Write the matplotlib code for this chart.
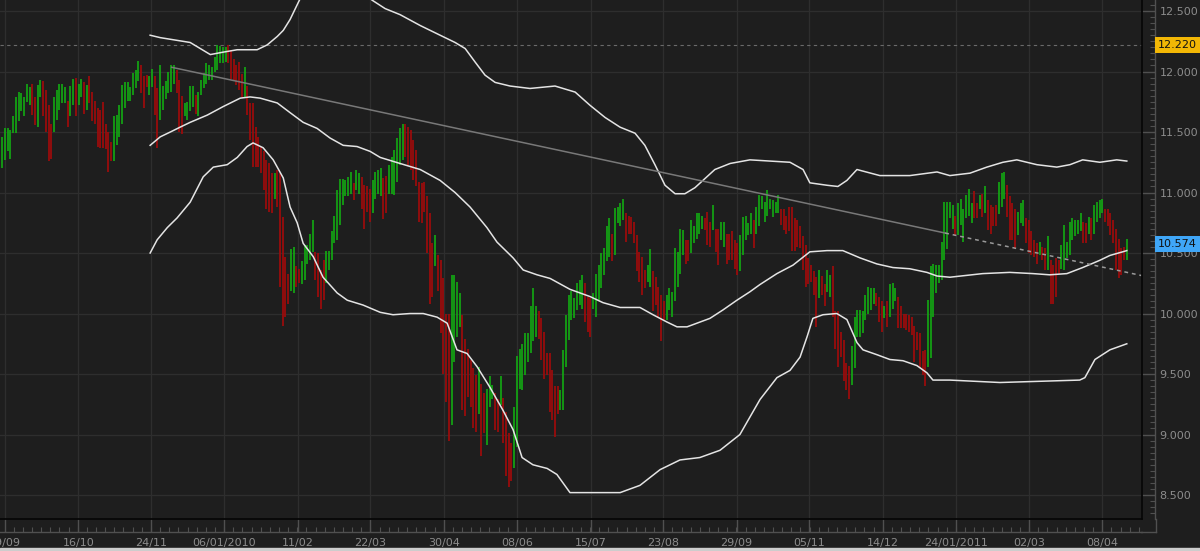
import numpy as np
import matplotlib
matplotlib.use("Agg")
import matplotlib.pyplot as plt
import matplotlib.transforms as mtransforms
from matplotlib.ticker import MultipleLocator, FixedLocator, FuncFormatter
from matplotlib.lines import Line2D

# daily bars (high / low), colour: g = up day, r = down day
highs = [
    11.46, 11.53, 11.53, 11.52, 11.63, 11.79, 11.83, 11.82, 11.79, 11.90, 11.87, 11.90, 11.79, 11.89, 11.93, 11.92,
    11.85, 11.72, 11.57, 11.79, 11.85, 11.90, 11.90, 11.87, 11.76, 11.88, 11.94, 11.95, 11.90, 11.94, 11.91, 11.89,
    11.96, 11.83, 11.76, 11.70, 11.68, 11.75, 11.57, 11.50, 11.42, 11.63, 11.64, 11.72, 11.89, 11.91, 11.91, 11.87,
    11.99, 12.01, 12.09, 12.05, 11.96, 11.97, 11.96, 12.02, 11.96, 11.86, 12.05, 11.88, 11.92, 12.00, 12.05, 12.05,
    12.01, 11.93, 11.80, 11.74,
    11.75, 11.88, 11.88, 11.81, 11.83, 11.93, 11.99, 12.07, 12.05, 12.04, 12.12, 12.22, 12.21, 12.20, 12.20, 12.22,
    12.18, 12.10, 12.05, 12.08, 11.98, 12.04, 11.88, 11.74, 11.74, 11.54, 11.46, 11.38, 11.34, 11.27, 11.24, 11.16,
    11.16, 11.19, 11.16, 10.80, 10.47, 10.33, 10.53, 10.55, 10.39, 10.37, 10.43, 10.57, 10.57, 10.66, 10.77, 10.51,
    10.50, 10.36, 10.44, 10.52, 10.52, 10.68, 10.81, 11.02, 11.11, 11.11, 11.10, 11.13, 11.17, 11.08, 11.19, 11.16,
    11.13, 11.06, 11.05, 11.03, 11.10,
    11.17, 11.19, 11.20, 11.12, 11.14, 11.23, 11.29, 11.35, 11.45, 11.53, 11.57, 11.57, 11.54, 11.52, 11.43, 11.35,
    11.09, 11.08, 11.09, 10.97, 10.83, 10.58, 10.65, 10.48, 10.44, 10.29, 10.00, 10.00, 10.32, 10.32, 10.26, 10.17,
    9.99, 9.79, 9.71, 9.62, 9.55, 9.49, 9.56, 9.42, 9.34, 9.38, 9.48, 9.41, 9.34, 9.29, 9.48, 9.30,
    9.19, 9.01, 8.93, 9.23, 9.65, 9.71, 9.75, 9.84, 9.84, 10.06, 10.21, 10.06, 10.02, 9.96, 9.85, 9.67,
    9.67, 9.53, 9.40, 9.40, 9.37,
    9.70, 9.99, 10.15, 10.19, 10.13, 10.25, 10.28, 10.32, 10.25, 10.14, 10.13, 10.17, 10.33, 10.40, 10.50, 10.54,
    10.72, 10.79, 10.66, 10.87, 10.88, 10.91, 10.95, 10.83, 10.81, 10.80, 10.76, 10.65, 10.51, 10.47, 10.36, 10.40,
    10.53, 10.35, 10.30, 10.22, 10.15, 10.10, 10.15, 10.21, 10.18, 10.54, 10.51, 10.70, 10.69, 10.61, 10.61, 10.77,
    10.72, 10.83, 10.83, 10.81, 10.79, 10.84, 10.76, 10.90, 10.70, 10.70, 10.76, 10.76, 10.66, 10.66, 10.68, 10.61,
    10.58, 10.65, 10.80, 10.81, 10.75, 10.83,
    10.77, 10.88, 10.98, 10.97, 10.92, 11.02, 10.95, 10.94, 10.92, 10.98, 10.86, 10.86, 10.81, 10.88, 10.88, 10.79,
    10.77, 10.72, 10.64, 10.57, 10.46, 10.40, 10.35, 10.30, 10.36, 10.31, 10.24, 10.36, 10.32, 10.39, 10.02, 10.02,
    9.85, 9.78, 9.59, 9.57, 9.73, 9.97, 10.03, 10.03, 10.02, 10.15, 10.22, 10.21, 10.21, 10.17, 10.14, 10.10,
    10.06, 10.10, 10.24, 10.25, 10.21, 10.14, 10.06, 10.00, 10.00, 9.99, 9.97, 9.90, 9.85, 9.84, 9.69, 9.70,
    10.11, 10.39, 10.41, 10.40, 10.40, 10.59,
    10.92, 10.92, 10.92, 10.90, 10.81, 10.91, 10.95, 10.86, 10.98, 11.03, 10.91, 11.01, 10.91, 10.98, 10.99, 11.05,
    10.94, 10.90, 10.88, 10.90, 11.09, 11.16, 11.17, 11.06, 10.97, 10.91, 10.86, 10.84, 10.91, 10.94, 10.79, 10.77,
    10.68, 10.61, 10.58, 10.59, 10.55, 10.54, 10.64, 10.44, 10.40, 10.46, 10.44, 10.57, 10.73, 10.59, 10.76, 10.79,
    10.77, 10.77, 10.83, 10.76, 10.75, 10.80, 10.79, 10.90, 10.92, 10.94, 10.95, 10.86, 10.86, 10.83, 10.77, 10.70,
    10.62, 10.54, 10.55, 10.62,
]
lows = [
    11.20, 11.27, 11.34, 11.28, 11.49, 11.49, 11.59, 11.67, 11.63, 11.75, 11.72, 11.64, 11.56, 11.54, 11.79, 11.63,
    11.50, 11.26, 11.28, 11.50, 11.60, 11.68, 11.74, 11.74, 11.54, 11.63, 11.72, 11.63, 11.72, 11.79, 11.65, 11.68,
    11.74, 11.59, 11.57, 11.38, 11.37, 11.37, 11.36, 11.17, 11.26, 11.26, 11.39, 11.46, 11.57, 11.70, 11.76, 11.76,
    11.81, 11.86, 11.92, 11.82, 11.70, 11.87, 11.81, 11.87, 11.64, 11.37, 11.60, 11.68, 11.77, 11.82, 11.83, 11.90,
    11.82, 11.50, 11.48, 11.63,
    11.60, 11.67, 11.71, 11.65, 11.63, 11.81, 11.86, 11.90, 11.93, 11.93, 12.00, 12.01, 12.07, 12.07, 12.08, 12.07,
    11.94, 11.93, 11.89, 11.85, 11.79, 11.79, 11.64, 11.43, 11.21, 11.21, 11.21, 11.16, 11.02, 10.86, 10.84, 10.83,
    10.95, 10.88, 10.22, 9.90, 9.97, 10.08, 10.19, 10.17, 10.22, 10.25, 10.24, 10.28, 10.41, 10.44, 10.51, 10.28,
    10.14, 10.04, 10.11, 10.25, 10.36, 10.44, 10.58, 10.61, 10.73, 10.90, 10.97, 10.97, 10.99, 10.94, 11.02, 10.99,
    10.86, 10.70, 10.84, 10.76, 10.83,
    10.95, 10.99, 10.97, 10.78, 10.83, 10.99, 10.99, 10.98, 11.09, 11.23, 11.27, 11.29, 11.23, 11.19, 11.10, 11.05,
    10.76, 10.75, 10.84, 10.50, 10.08, 10.14, 10.39, 10.19, 9.84, 9.50, 9.27, 8.95, 9.08, 9.60, 9.81, 9.89,
    9.20, 9.15, 9.31, 9.23, 9.05, 9.02, 9.17, 8.82, 9.01, 8.91, 9.23, 9.29, 9.04, 9.02, 9.24, 8.93,
    8.66, 8.57, 8.62, 8.72, 8.90, 9.38, 9.37, 9.49, 9.60, 9.67, 9.77, 9.81, 9.79, 9.62, 9.46, 9.49,
    9.19, 9.12, 8.98, 9.17, 9.20,
    9.20, 9.56, 9.78, 9.95, 9.96, 10.03, 10.07, 10.04, 9.93, 9.85, 9.81, 10.04, 9.97, 10.11, 10.21, 10.32,
    10.43, 10.47, 10.43, 10.48, 10.75, 10.72, 10.77, 10.59, 10.66, 10.66, 10.58, 10.35, 10.26, 10.15, 10.21, 10.26,
    10.22, 10.02, 10.07, 9.96, 9.77, 9.95, 9.95, 10.03, 9.97, 10.10, 10.22, 10.33, 10.48, 10.41, 10.43, 10.50,
    10.58, 10.62, 10.66, 10.70, 10.69, 10.57, 10.55, 10.69, 10.51, 10.40, 10.61, 10.55, 10.41, 10.44, 10.44, 10.37,
    10.32, 10.35, 10.48, 10.61, 10.65, 10.66,
    10.54, 10.66, 10.72, 10.86, 10.76, 10.81, 10.86, 10.80, 10.83, 10.83, 10.73, 10.69, 10.66, 10.68, 10.52, 10.52,
    10.55, 10.54, 10.36, 10.22, 10.24, 10.26, 10.15, 9.89, 10.13, 10.15, 10.06, 10.18, 10.14, 9.97, 9.71, 9.56,
    9.64, 9.44, 9.37, 9.29, 9.41, 9.55, 9.81, 9.81, 9.84, 9.95, 10.00, 10.03, 10.08, 10.06, 9.93, 9.85,
    9.96, 9.89, 9.97, 10.04, 10.10, 9.88, 9.88, 9.88, 9.86, 9.85, 9.82, 9.60, 9.70, 9.55, 9.49, 9.40,
    9.56, 9.63, 9.97, 10.17, 10.25, 10.28,
    10.44, 10.53, 10.79, 10.70, 10.64, 10.65, 10.73, 10.59, 10.79, 10.81, 10.75, 10.79, 10.79, 10.86, 10.80, 10.83,
    10.69, 10.66, 10.72, 10.72, 10.82, 10.88, 10.95, 10.80, 10.61, 10.61, 10.53, 10.65, 10.75, 10.72, 10.58, 10.50,
    10.48, 10.47, 10.41, 10.48, 10.44, 10.36, 10.36, 10.08, 10.08, 10.14, 10.33, 10.37, 10.36, 10.46, 10.48, 10.61,
    10.64, 10.66, 10.68, 10.58, 10.58, 10.66, 10.61, 10.66, 10.76, 10.79, 10.83, 10.76, 10.72, 10.65, 10.58, 10.36,
    10.29, 10.32, 10.44, 10.44,
]
bar_dirs = (
    "ggggggggggg" "rr" "gg" "rrrr" "ggggg" "r" "gg" "r" "gg" "r" "g" "r" "rrrrrrrr" "gggggggggg" "rrr" "gg" "rr" "gggggg" "rrr" "g"
    "gggr" "ggggggggggg" "rrrrrr" "g" "rrrrrrrrrr" "g" "rrrrr" "gg" "rr" "ggggg" "rrrr" "gggggggggg" "r" "gg" "rrrr" "g"
    "gggrrgggg" "ggrrrrr" "rrrrrr" "g" "rrrrr" "gggg" "rrrrrr" "g" "rr" "ggg" "rr" "g" "rrrr" "ggggggggg" "rrrrrrrr" "g"
    "gggggggg" "rrr" "ggggggg" "r" "gggg" "rrrrrrrr" "gg" "rrrrr" "ggggggg" "rr" "ggggg" "rrr" "g" "rr" "gg" "rrrrr" "ggggg"
    "r" "ggggggggg" "rrrrrrrrrrrrrr" "g" "rr" "gg" "rrrrrrr" "ggggggggg" "rrr" "g" "r" "ggg" "rrrrrrrrrrr" "gggggg"
    "gggg" "r" "gggggg" "rr" "g" "r" "g" "rrrr" "ggg" "rrrr" "ggg" "rrrrr" "g" "rr" "g" "rrrr" "gggggggg" "rr" "g" "r" "gggg" "rrrrrrrr" "g"
)

# bollinger bands (bar index, price)
upper_idx = [54.3, 58.0, 63.5, 69.0, 72.7, 76.4, 81.1, 86.3, 93.6, 97.3, 101.0, 103.2, 105.7, 108.7, 112.0, 118.0,
             124.0, 130.0, 135.8, 140.6, 146.1, 153.5, 160.8, 166.3, 170.0, 173.6, 177.3, 181.0, 186.5, 193.8,
             203.0, 210.4, 215.9, 221.4, 226.9, 232.4, 236.0, 239.7, 243.4, 247.1, 250.7, 254.4, 261.7, 267.3,
             274.6, 281.9, 289.3, 294.1, 296.6, 302.9, 306.9, 310.2, 313.9, 322.3, 333.3, 343.3, 348.0, 355.4,
             361.6, 367.5, 372.6, 380.0, 387.3, 392.1, 396.8, 403.1, 409.3, 413.0]
upper_val = [12.30, 12.28, 12.26, 12.24, 12.19, 12.14, 12.16, 12.18, 12.18, 12.22, 12.29, 12.34, 12.43, 12.57, 12.72, 12.80,
             12.80, 12.70, 12.59, 12.52, 12.47, 12.38, 12.30, 12.24, 12.19, 12.08, 11.97, 11.91, 11.88, 11.86,
             11.88, 11.83, 11.72, 11.62, 11.54, 11.49, 11.39, 11.23, 11.06, 10.99, 10.99, 11.04, 11.19, 11.24,
             11.27, 11.26, 11.25, 11.19, 11.08, 11.06, 11.05, 11.10, 11.19, 11.14, 11.14, 11.17, 11.14, 11.16,
             11.21, 11.25, 11.27, 11.23, 11.21, 11.23, 11.27, 11.25, 11.27, 11.26]
middle_idx = [54.3, 58.0, 61.7, 65.3, 69.0, 75.3, 81.1, 87.4, 91.0, 94.7, 101.0, 105.7, 110.5, 115.6, 120.4, 125.2,
              130.3, 135.1, 138.8, 146.1, 153.5, 160.8, 166.3, 171.8, 178.0, 181.7, 187.6, 191.3, 196.4, 201.2,
              208.5, 215.9, 220.6, 226.9, 234.2, 239.0, 244.1, 247.8, 251.5, 255.1, 259.9, 264.7, 269.8, 274.6,
              278.3, 284.5, 290.4, 296.6, 302.9, 308.7, 315.0, 321.2, 327.1, 333.3, 339.6, 343.3, 348.0, 360.1,
              370.0, 378.5, 384.7, 391.0, 396.8, 403.1, 406.8, 411.5, 413.0]
middle_val = [11.39, 11.46, 11.50, 11.54, 11.58, 11.64, 11.71, 11.78, 11.79, 11.78, 11.74, 11.66, 11.58, 11.53, 11.45, 11.39,
              11.38, 11.34, 11.29, 11.24, 11.19, 11.10, 11.00, 10.88, 10.71, 10.59, 10.46, 10.36, 10.32, 10.29,
              10.20, 10.14, 10.09, 10.05, 10.05, 9.99, 9.93, 9.89, 9.89, 9.92, 9.96, 10.03, 10.11, 10.18,
              10.24, 10.33, 10.40, 10.51, 10.52, 10.52, 10.46, 10.41, 10.38, 10.37, 10.34, 10.31, 10.30, 10.33,
              10.34, 10.33, 10.32, 10.33, 10.38, 10.44, 10.48, 10.51, 10.52]
lower_idx = [54.3, 56.9, 60.6, 64.2, 69.0, 73.8, 77.5, 82.6, 86.3, 89.9, 92.1, 95.8, 99.5, 103.2, 105.7, 108.3,
             110.5, 114.2, 117.8, 123.0, 126.7, 132.5, 138.8, 143.5, 149.8, 154.6, 159.7, 163.4, 167.0, 170.7,
             174.4, 179.1, 183.9, 187.6, 190.9, 194.9, 200.1, 203.7, 208.5, 226.9, 234.2, 241.6, 248.9, 256.2,
             263.6, 270.9, 278.3, 284.5, 289.3, 293.0, 295.6, 297.7, 301.4, 306.5, 310.2, 313.9, 316.1, 321.2,
             326.0, 330.8, 335.9, 339.6, 341.8, 348.0, 366.4, 395.7, 397.6, 401.3, 406.8, 413.0]
lower_val = [10.50, 10.61, 10.71, 10.79, 10.92, 11.13, 11.21, 11.23, 11.29, 11.38, 11.41, 11.37, 11.27, 11.12, 10.88, 10.75,
             10.58, 10.47, 10.30, 10.17, 10.11, 10.07, 10.01, 9.99, 10.00, 10.00, 9.97, 9.92, 9.70, 9.67,
             9.56, 9.39, 9.20, 9.04, 8.81, 8.75, 8.72, 8.67, 8.52, 8.52, 8.58, 8.71, 8.79, 8.81,
             8.87, 9.00, 9.29, 9.47, 9.53, 9.64, 9.81, 9.96, 9.99, 10.00, 9.95, 9.76, 9.70, 9.66,
             9.62, 9.61, 9.57, 9.51, 9.45, 9.45, 9.43, 9.45, 9.47, 9.62, 9.70, 9.75]

# trend line: start, end of solid part, end of dotted part
trend_idx = [62.2, 346.3, 418.4]
trend_val = [12.035, 10.665, 10.314]

max_level = 12.22
last_close = 10.574

date_ticks = [0.84, 27.95, 54.8, 81.5, 108.5, 135.2, 162.2, 189.2, 216.2, 242.7, 269.7, 296.4, 323.3, 350.3, 377.1, 404.0]
date_labels = ["09/09", "16/10", "24/11", "06/01/2010", "11/02", "22/03", "30/04", "08/06", "15/07",
               "23/08", "29/09", "05/11", "14/12", "24/01/2011", "02/03", "08/04"]

bg = "#1e1e1e"
grid_col = "#2e2e2e"
axis_col = "#505050"
text_col = "#8c8c8c"
up_col = "#13a613"
down_col = "#9e0b0b"
band_col = "#e4e4e4"

plt.rcParams["font.family"] = "DejaVu Sans"

fig = plt.figure(figsize=(12, 5.51), dpi=100, facecolor=bg)
ax = fig.add_axes([0, 32 / 551, 1141.5 / 1200, 519 / 551])
ax.set_facecolor(bg)

x = np.arange(len(highs))
cols = [up_col if c == "g" else down_col for c in bar_dirs]
ax.vlines(x, lows, highs, colors=cols, linewidth=1.25, zorder=3)

for bx, by in [(upper_idx, upper_val), (middle_idx, middle_val), (lower_idx, lower_val)]:
    ax.plot(bx, by, color=band_col, lw=1.1, zorder=4)

ax.plot(trend_idx[:2], trend_val[:2], color="#787878", lw=1.1, zorder=5)
ax.plot(trend_idx[1:], trend_val[1:], color="#9a9a9a", lw=1.1, ls=(0, (2.5, 2.5)), zorder=5)
ax.axhline(max_level, color="#6a6a6a", lw=0.8, ls=(0, (3, 3)), zorder=2)

ax.set_xlim(-0.84, 418.4)
ax.set_ylim(8.302, 12.591)

# axes / ticks
ax.xaxis.set_major_locator(FixedLocator(date_ticks))
ax.set_xticklabels(date_labels)
step = (date_ticks[-1] - date_ticks[0]) / (len(date_ticks) - 1)
minor_x = np.arange(date_ticks[0] - step, 418.4, step / 8)
ax.xaxis.set_minor_locator(FixedLocator(minor_x))
ax.yaxis.set_major_locator(MultipleLocator(0.5))
ax.yaxis.set_minor_locator(MultipleLocator(0.05))
ax.yaxis.set_major_formatter(FuncFormatter(lambda v, p: "%.3f" % v))
ax.yaxis.tick_right()

for s in ["left", "top"]:
    ax.spines[s].set_visible(False)
for s in ["right", "bottom"]:
    ax.spines[s].set_position(("outward", 9.4))
    ax.spines[s].set_color(axis_col)
    ax.spines[s].set_linewidth(1.0)

ax.tick_params(axis="both", which="major", direction="in", length=9.4, width=1.0,
               color=axis_col, labelcolor=text_col, labelsize=8)
ax.tick_params(axis="both", which="minor", direction="in", length=3.6, width=0.8, color=axis_col)
ax.tick_params(axis="y", which="major", pad=3.5)
ax.tick_params(axis="x", which="major", pad=4)

ax.grid(True, which="major", color=grid_col, lw=0.9, zorder=0)
ax.set_axisbelow(True)

# black frame on the data area
ax.plot([0, 1], [0, 0], transform=ax.transAxes, color="#050505", lw=1.2, clip_on=False, zorder=6)
ax.plot([1, 1], [0, 1], transform=ax.transAxes, color="#050505", lw=1.2, clip_on=False, zorder=6)

# close the corner of the axis strip
to_fig = mtransforms.Affine2D().scale(1 / 1200, 1 / 551) + fig.transFigure
fig.add_artist(Line2D([1141, 1155.5], [551 - 531.7, 551 - 531.7], transform=to_fig, color=axis_col, lw=1.0))
fig.add_artist(Line2D([1155.5, 1155.5], [551 - 519, 551 - 531.7], transform=to_fig, color=axis_col, lw=1.0))
fig.add_artist(plt.Rectangle((0, 0), 1, 3 / 551, transform=fig.transFigure, color="#cdcdcd"))

# value markers on the price axis
lab_trans = mtransforms.blended_transform_factory(ax.transAxes, ax.transData)
ax.text(1158 / 1141.5, max_level, "%.3f" % max_level, transform=lab_trans, ha="left", va="center",
        fontsize=8, color="#111111", zorder=10, clip_on=False,
        bbox=dict(boxstyle="square,pad=0.28", fc="#f2b705", ec="none"))
ax.text(1158 / 1141.5, last_close, "%.3f" % last_close, transform=lab_trans, ha="left", va="center",
        fontsize=8, color="#111111", zorder=10, clip_on=False,
        bbox=dict(boxstyle="square,pad=0.28", fc="#3fa6f7", ec="none"))

fig.savefig("out.png", dpi=100, facecolor=fig.get_facecolor())
